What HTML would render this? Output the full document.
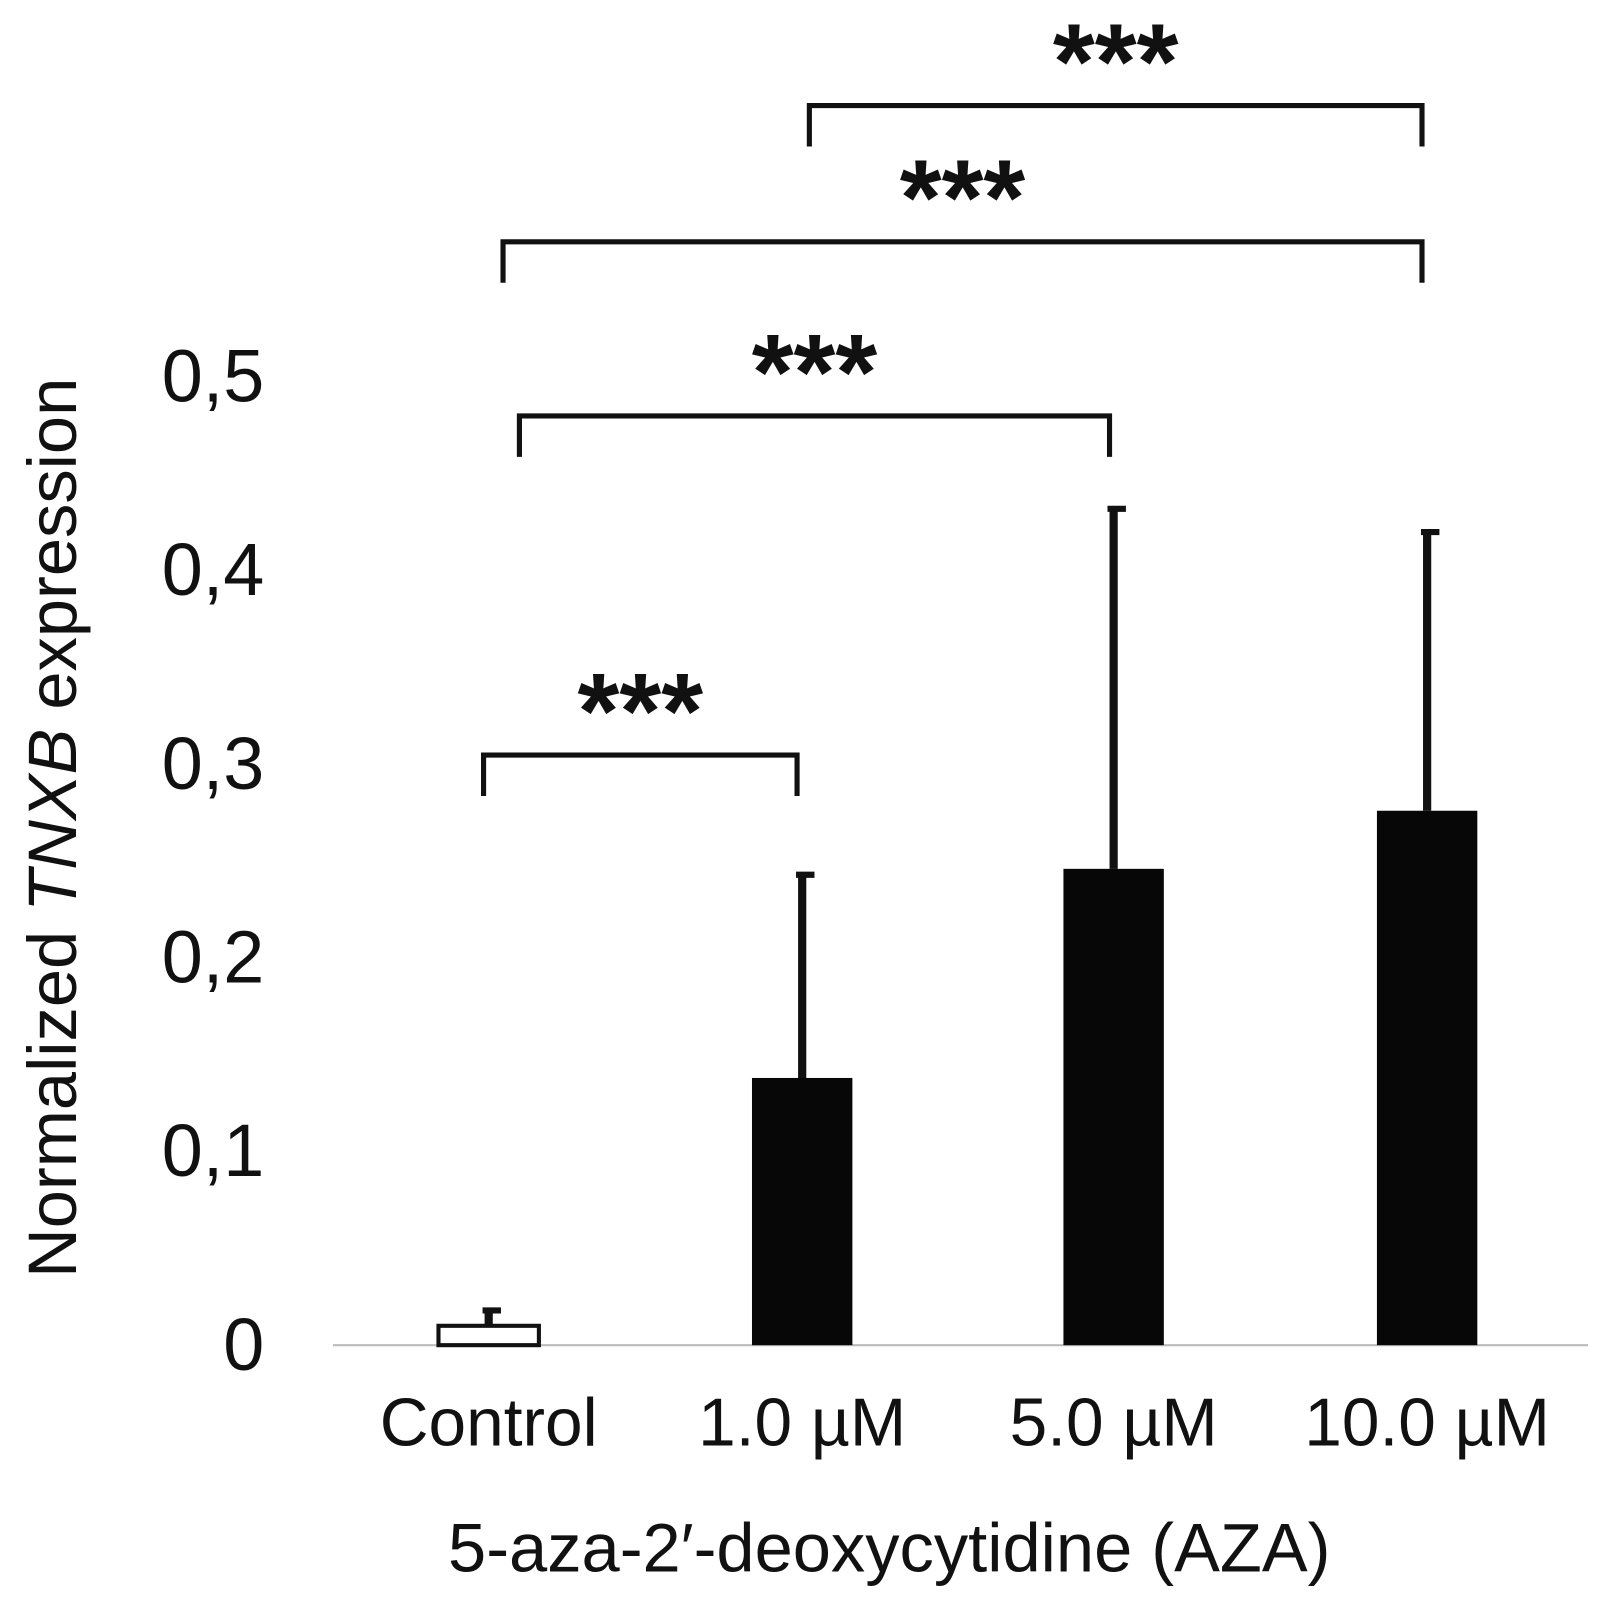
<!DOCTYPE html>
<html><head><meta charset="utf-8"><style>
html,body{margin:0;padding:0;background:#fff;}
svg{display:block;font-family:"Liberation Sans",Arial,sans-serif;}
</style></head><body>
<svg id="chart" width="1605" height="1605" viewBox="0 0 1605 1605" xmlns="http://www.w3.org/2000/svg">
<g transform="scale(1.0245)">
<g id="marks"></g>
<text x="868" y="1534" font-size="67" text-anchor="middle" fill="#111">5-aza-2′-deoxycytidine (AZA)</text>
<text transform="translate(74,808) rotate(-90)" font-size="67" text-anchor="middle" fill="#111">Normalized <tspan font-style="italic">TNXB</tspan> expression</text>
</g>
</svg>
<script>
const categories = ["Control", "1.0 µM", "5.0 µM", "10.0 µM"];
const means = [0.01, 0.138, 0.246, 0.276];
const errors = [0.009, 0.106, 0.187, 0.145];
const yTicks = [0, 0.1, 0.2, 0.3, 0.4, 0.5];
const yTickLabels = ["0", "0,1", "0,2", "0,3", "0,4", "0,5"];
const brackets = [[0,1],[0,2],[0,3],[1,3]];
const bracketLabels = ["***","***","***","***"];

const NS = "http://www.w3.org/2000/svg";
const g = document.getElementById("marks");
const y0 = 1313, pxPerUnit = 1890;
const yScale = v => y0 - v * pxPerUnit;
const xCenters = [477, 783, 1087, 1393];
const xScale = i => xCenters[i];
const barW = 98;
function mk(tag, attrs){const e=document.createElementNS(NS,tag);for(const k in attrs)e.setAttribute(k,attrs[k]);g.appendChild(e);return e;}

const axis = mk("line",{x1:325,x2:1550,y1:y0,y2:y0,stroke:"#bbb","stroke-width":2});



yTicks.forEach((t,i)=>{
  const tx = mk("text",{x:258,y:yScale(t)+24,"font-size":72,"text-anchor":"end",fill:"#111"});
  tx.textContent = yTickLabels[i];
  
  
});

categories.forEach((c,i)=>{
  const cx = xScale(i);
  const top = yScale(means[i]);
  const etop = yScale(means[i]+errors[i]);
  const el = mk("line",{x1:cx,x2:cx,y1:top,y2:etop,stroke:"#111","stroke-width":8});
  
  
  const cap = mk("line",{x1:cx-6,x2:cx+12,y1:etop+2,y2:etop+2,stroke:"#111","stroke-width":6});
  
  
  const r = mk("rect",{x:cx-barW/2,y:top,width:barW,height:y0-top,fill:i===0?"#fff":"#070707",stroke:"#111","stroke-width":i===0?4:0});
  
  
  const lab = mk("text",{x:cx,y:1411,"font-size":66,"text-anchor":"middle",fill:"#111"});
  lab.textContent = c;
  
  
});

const bracketY = [737, 406, 236, 103];
const bracketX = [[472,778],[507,1083],[491,1388],[790,1388]];
brackets.forEach((b,i)=>{
  const [xa,xb] = bracketX[i], yb = bracketY[i];
  const p = mk("path",{d:`M${xa} ${yb+40}V${yb}H${xb}V${yb+40}`,fill:"none",stroke:"#111","stroke-width":5});
  
  
  const s = mk("text",{x:(xa+xb)/2,y:yb-7,"font-size":105,"font-weight":"bold","text-anchor":"middle",fill:"#111"});
  s.textContent = bracketLabels[i];
  
  
});
</script>
</body></html>
